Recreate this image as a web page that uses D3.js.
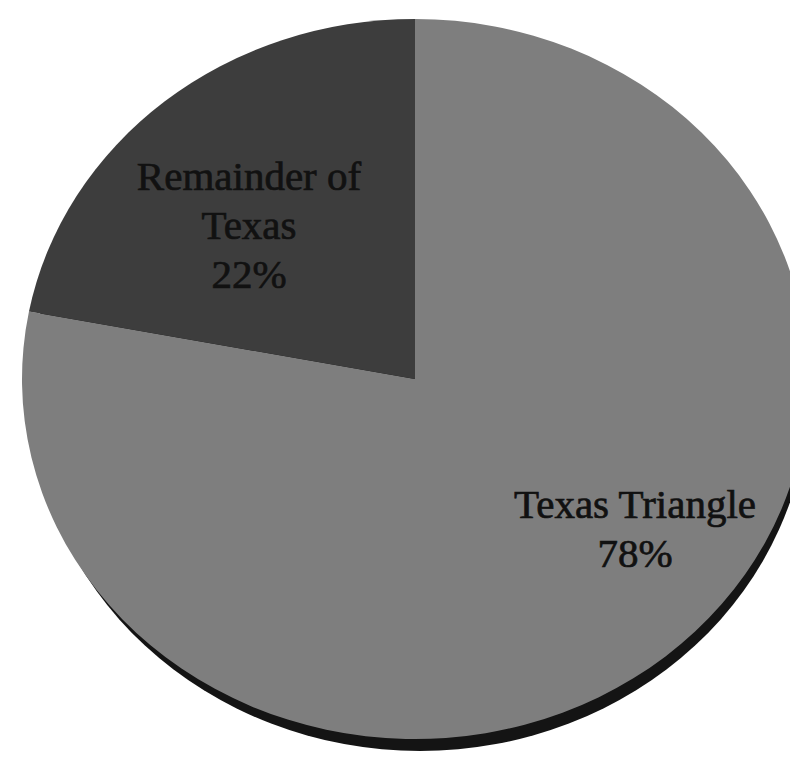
<!DOCTYPE html>
<html>
<head>
<meta charset="utf-8">
<script src="https://cdn.jsdelivr.net/npm/d3@7"></script>
<style>
  html, body { margin: 0; padding: 0; background: #fff; }
  svg { display: block; }
</style>
</head>
<body>
<svg id="chart" width="790" height="761"></svg>
<script>
// data
const categories = ['Texas Triangle', 'Remainder of Texas'];
const shares = [78, 22];
const labelLines = [['Texas Triangle', '78%'], ['Remainder of', 'Texas', '22%']];

// layout
const width = 790, height = 761;
const cx = 415, cy = 379;
const rx = 393, ry = 360;
const sliceColors = ['#7e7e7e', '#3d3d3d'];
const labelPos = [[635, 518], [249, 190]]; // baseline of first line
const lineGap = 49;

const svg = d3.select('#chart');

// dark rim under the pie (scanned 3d look)
svg.append('ellipse')
    .attr('cx', cx + 5)
    .attr('cy', cy + 12)
    .attr('rx', rx - 4)
    .attr('ry', ry)
    .attr('fill', '#141414');

const pie = d3.pie().sort(null).value(d => d);
const arc = d3.arc().innerRadius(0).outerRadius(rx);

const pieG = svg.append('g')
    .attr('transform', `translate(${cx},${cy}) scale(1,${ry / rx})`);

pieG.selectAll('path')
    .data(pie(shares))
    .enter()
    .append('path')
    .attr('d', arc)
    .attr('fill', (d, i) => sliceColors[i]);

// labels
const labels = svg.append('g')
    .attr('font-family', '"Liberation Serif", "Times New Roman", serif')
    .attr('font-size', 41)
    .attr('fill', '#111')
    .attr('stroke', '#111')
    .attr('stroke-width', 0.7)
    .attr('text-anchor', 'middle');

categories.forEach((c, i) => {
    const t = labels.append('text')
        .attr('x', labelPos[i][0])
        .attr('y', labelPos[i][1]);
    labelLines[i].forEach((line, j) => {
        t.append('tspan')
            .attr('x', labelPos[i][0])
            .attr('y', labelPos[i][1] + j * lineGap)
            .text(line);
    });
});
</script>
</body>
</html>
